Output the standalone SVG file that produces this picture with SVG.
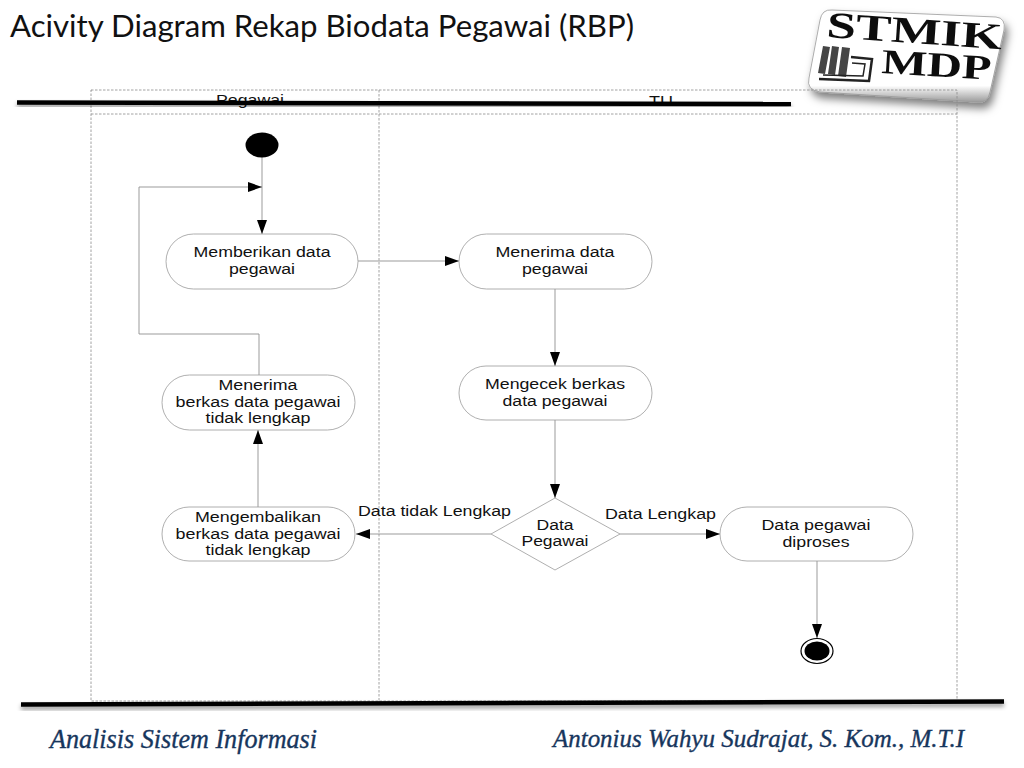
<svg xmlns="http://www.w3.org/2000/svg" width="1024" height="768" viewBox="0 0 1024 768">
<style>
text{font-family:"Liberation Sans",Arial,sans-serif;fill:#111;lengthAdjust:spacingAndGlyphs}
.n{font-size:15.5px;text-anchor:middle}
.shape{fill:#fff;stroke:#9a9a9a;stroke-width:.8}
.lane{fill:none;stroke:#8a8a8a;stroke-width:.8;stroke-dasharray:2.500 1.500}
.c{fill:none;stroke:#909090;stroke-width:.9}
.bar{stroke:#000;fill:none}
.foot{font-family:"Liberation Serif",serif;font-style:italic;fill:#17365d;stroke:#17365d;stroke-width:.35}
.logo{font-family:"Liberation Serif",serif;font-weight:bold;fill:#111}
</style>
<defs>
<marker id="a" markerUnits="userSpaceOnUse" markerWidth="16" markerHeight="12" refX="14" refY="5" orient="auto"><path d="M0 0L14 5L0 10Z" fill="#000"/></marker>
<filter id="sh" x="-5%" y="-200%" width="110%" height="500%"><feDropShadow dx="0" dy="3" stdDeviation="2" flood-color="#000" flood-opacity=".4"/></filter>
<filter id="ls" x="-20%" y="-20%" width="140%" height="150%"><feDropShadow dx="3" dy="6" stdDeviation="4" flood-color="#000" flood-opacity=".5"/></filter>
<filter id="soft"><feGaussianBlur stdDeviation=".4"/></filter>
<linearGradient id="lg" x1="0" y1="0" x2="0" y2="1"><stop offset="0" stop-color="#fff"/><stop offset=".82" stop-color="#fff"/><stop offset="1" stop-color="#999"/></linearGradient>
</defs>
<text x="10" y="37" font-size="30" textLength="624" lengthAdjust="spacingAndGlyphs" style="font-family:Lato,'Liberation Sans',sans-serif" fill="#000">Acivity Diagram Rekap Biodata Pegawai (RBP)</text>
<g id="logo">
<path d="M832 10L996 17Q1006 18 1004 30L990 92Q988 104 976 102L820 92Q806 90 809 78L820 20Q822 9 832 10Z" fill="url(#lg)" stroke="#999" stroke-width=".8" filter="url(#ls)"/>
<g filter="url(#soft)">
<text class="logo" transform="translate(826 37) rotate(4)" font-size="37" textLength="176" lengthAdjust="spacingAndGlyphs">STMIK</text>
<text class="logo" transform="translate(881 73) rotate(3.500)" font-size="35" textLength="110" lengthAdjust="spacingAndGlyphs">MDP</text>
<path d="M823 46l7 1-5 27-7-1zM832 46l7 1-4 28-7-1zM842 47l8 1-4 29-8-1z" fill="#444"/>
<path d="M851 57l21 2-3 22-50-2" fill="none" stroke="#222" stroke-width="2.500"/>
<path d="M852 63l13 1-2 12-40-1" fill="none" stroke="#222" stroke-width="1.500"/>
</g>
</g>
<g id="lanes">
<rect class="lane" x="91" y="90" width="866" height="611"/>
<line class="lane" x1="91" y1="114" x2="957" y2="114"/>
<line class="lane" x1="379" y1="90" x2="379" y2="701"/>
<text class="n" x="250" y="105" textLength="68" lengthAdjust="spacingAndGlyphs">Pegawai</text>
<text class="n" x="661" y="106" textLength="24" lengthAdjust="spacingAndGlyphs">TU</text>
</g>
<g id="connectors">
<path class="c" d="M262 157V234" marker-end="url(#a)"/>
<path class="c" d="M259 375V334H139V187H262" marker-end="url(#a)"/>
<path class="c" d="M358 261H459" marker-end="url(#a)"/>
<path class="c" d="M555 289V366" marker-end="url(#a)"/>
<path class="c" d="M555 420V498" marker-end="url(#a)"/>
<path class="c" d="M491 534H356" marker-end="url(#a)"/>
<path class="c" d="M620 534H720" marker-end="url(#a)"/>
<path class="c" d="M258 507V430" marker-end="url(#a)"/>
<path class="c" d="M817 561V638" marker-end="url(#a)"/>
<text x="358" y="516" font-size="15.500" textLength="153" lengthAdjust="spacingAndGlyphs">Data tidak Lengkap</text>
<text x="605" y="519" font-size="15.500" textLength="111" lengthAdjust="spacingAndGlyphs">Data Lengkap</text>
</g>
<g id="start"><ellipse cx="262" cy="145" rx="16.500" ry="12.500" fill="#000"/></g>
<g id="n1"><rect class="shape" x="166" y="234" width="192" height="55" rx="27.500"/><text class="n" x="262" y="257" textLength="137" lengthAdjust="spacingAndGlyphs">Memberikan data</text><text class="n" x="262" y="274" textLength="66" lengthAdjust="spacingAndGlyphs">pegawai</text></g>
<g id="n2"><rect class="shape" x="459" y="234" width="193" height="55" rx="27.500"/><text class="n" x="555" y="257" textLength="119" lengthAdjust="spacingAndGlyphs">Menerima data</text><text class="n" x="555" y="274" textLength="66" lengthAdjust="spacingAndGlyphs">pegawai</text></g>
<g id="n3"><rect class="shape" x="459" y="366" width="193" height="54" rx="27"/><text class="n" x="555" y="389" textLength="140" lengthAdjust="spacingAndGlyphs">Mengecek berkas</text><text class="n" x="555" y="406" textLength="105" lengthAdjust="spacingAndGlyphs">data pegawai</text></g>
<g id="n4"><rect class="shape" x="162" y="375" width="193" height="55" rx="27.500"/><text class="n" x="258" y="390" textLength="79" lengthAdjust="spacingAndGlyphs">Menerima</text><text class="n" x="258" y="406.500" textLength="165" lengthAdjust="spacingAndGlyphs">berkas data pegawai</text><text class="n" x="258" y="423" textLength="105" lengthAdjust="spacingAndGlyphs">tidak lengkap</text></g>
<g id="n5"><rect class="shape" x="162" y="507" width="193" height="54" rx="27"/><text class="n" x="258" y="522" textLength="126" lengthAdjust="spacingAndGlyphs">Mengembalikan</text><text class="n" x="258" y="538.500" textLength="165" lengthAdjust="spacingAndGlyphs">berkas data pegawai</text><text class="n" x="258" y="555" textLength="105" lengthAdjust="spacingAndGlyphs">tidak lengkap</text></g>
<g id="d1"><path class="shape" d="M555 498L620 534L555 570L491 534Z"/><text class="n" x="555" y="530" textLength="37" lengthAdjust="spacingAndGlyphs">Data</text><text class="n" x="555" y="546" textLength="67" lengthAdjust="spacingAndGlyphs">Pegawai</text></g>
<g id="n6"><rect class="shape" x="720" y="507" width="193" height="54" rx="27"/><text class="n" x="816" y="530" textLength="109" lengthAdjust="spacingAndGlyphs">Data pegawai</text><text class="n" x="816" y="547" textLength="67" lengthAdjust="spacingAndGlyphs">diproses</text></g>
<g id="end"><ellipse cx="817" cy="651" rx="16" ry="12.500" fill="#fff" stroke="#000" stroke-width="1.200"/><ellipse cx="817" cy="651" rx="12.500" ry="9.500" fill="#000"/></g>
<path class="bar" stroke-width="4.500" filter="url(#sh)" d="M17 102.500L791 104"/>
<path class="bar" stroke-width="4.500" filter="url(#sh)" d="M21 704.500L1004 701.500"/>
<text class="foot" x="50" y="748" font-size="27" textLength="267" lengthAdjust="spacingAndGlyphs">Analisis  Sistem  Informasi</text>
<text class="foot" x="553" y="747" font-size="26" textLength="411" lengthAdjust="spacingAndGlyphs">Antonius Wahyu Sudrajat, S. Kom., M.T.I</text>
</svg>
